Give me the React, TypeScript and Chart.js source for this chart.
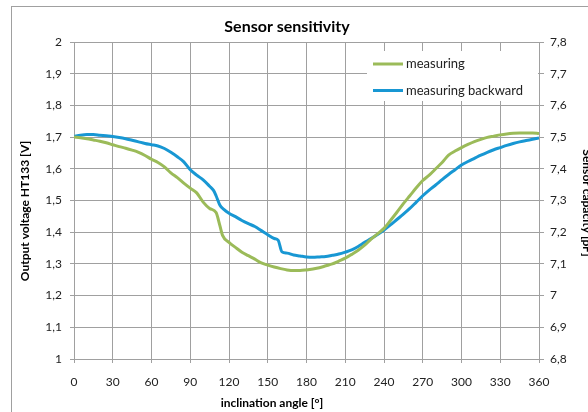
import { useEffect, useRef } from 'react';
import { Chart, registerables } from 'chart.js';

Chart.register(...registerables);

const chartTitle = 'Sensor sensitivity';
const xTitle = 'inclination angle [°]';
const leftTitle = 'Output voltage HT133 [V]';
const rightTitle = 'Sensor capacity [pF]';
const seriesNames = ['measuring', 'measuring backward'];
const seriesColors = ['#9bbb59', '#1897d3'];

const xTickLabels = ['0', '30', '60', '90', '120', '150', '180', '210', '240', '270', '300', '330', '360'];
const leftTickLabels = ['1', '1,1', '1,2', '1,3', '1,4', '1,5', '1,6', '1,7', '1,8', '1,9', '2'];
const rightTickLabels = ['6,8', '6,9', '7', '7,1', '7,2', '7,3', '7,4', '7,5', '7,6', '7,7', '7,8'];

const measuringAngles = [
  0, 5, 10, 15, 20, 25, 30, 35, 40, 45, 50, 55, 60, 65, 70, 75, 80, 85, 90, 95, 100, 105, 110, 113, 115,
  120, 125, 130, 135, 140, 145, 150, 155, 160, 165, 170, 175, 180, 185, 190, 195, 200, 205, 210, 215,
  220, 225, 230, 235, 240, 245, 250, 255, 260, 265, 270, 275, 280, 285, 290, 295, 300, 305, 310, 315,
  320, 325, 330, 335, 340, 345, 350, 355, 360,
];
const measuringValues = [
  1.700, 1.698, 1.695, 1.691, 1.687, 1.682, 1.676, 1.670, 1.665, 1.659, 1.652, 1.642, 1.630, 1.620,
  1.606, 1.587, 1.572, 1.555, 1.539, 1.524, 1.495, 1.475, 1.462, 1.420, 1.390,
  1.368, 1.352, 1.337, 1.326, 1.315, 1.303, 1.296, 1.290, 1.285, 1.281, 1.279, 1.279, 1.281, 1.284,
  1.288, 1.294, 1.300, 1.309, 1.318, 1.330, 1.343, 1.359, 1.378, 1.395, 1.412, 1.437, 1.463, 1.490,
  1.515, 1.540, 1.563, 1.580, 1.600, 1.620, 1.643, 1.656, 1.667, 1.677, 1.686, 1.693, 1.699, 1.703,
  1.707, 1.710, 1.712, 1.713, 1.713, 1.713, 1.711,
];

const backwardAngles = [
  0, 5, 10, 15, 20, 25, 30, 35, 40, 45, 50, 55, 60, 65, 70, 75, 80, 85, 90, 95, 100, 105, 108, 110,
  113, 116, 120, 125, 130, 135, 140, 145, 150, 155, 158, 161, 165, 170, 175, 180, 185, 190, 195, 200,
  205, 210, 215, 220, 225, 230, 235, 240, 245, 250, 255, 260, 265, 270, 275, 280, 285, 290, 295, 300,
  305, 310, 315, 320, 325, 330, 335, 340, 345, 350, 355, 360,
];
const backwardValues = [
  1.702, 1.706, 1.708, 1.708, 1.706, 1.704, 1.702, 1.699, 1.695, 1.690, 1.685, 1.680, 1.676, 1.672,
  1.664, 1.652, 1.638, 1.622, 1.597, 1.580, 1.565, 1.545, 1.532, 1.515,
  1.485, 1.472, 1.460, 1.449, 1.437, 1.427, 1.418, 1.405, 1.392, 1.380, 1.375, 1.338, 1.334, 1.328,
  1.325, 1.322, 1.321, 1.322, 1.323, 1.327, 1.331, 1.337, 1.344, 1.355, 1.368, 1.380, 1.393, 1.407,
  1.423, 1.440, 1.457, 1.475, 1.495, 1.515, 1.533, 1.549, 1.566, 1.582, 1.597, 1.612, 1.623, 1.633,
  1.643, 1.652, 1.660, 1.667, 1.674, 1.680, 1.685, 1.689, 1.693, 1.697,
];

const FONT = 'Lato, "Noto Sans", sans-serif';
const GRID = '#a0a0a0';

const decorPlugin = {
  id: 'decor',
  beforeDraw(chart: any) {
    const ctx = chart.ctx;
    ctx.save();
    ctx.fillStyle = '#ffffff';
    ctx.fillRect(0, 0, chart.width, chart.height);
    ctx.strokeStyle = '#a0a0a0';
    ctx.lineWidth = 1;
    ctx.strokeRect(11.5, 6.5, 1000, 1000);
    ctx.restore();
  },
  beforeDatasetsDraw(chart: any) {
    const ctx = chart.ctx;
    ctx.save();
    ctx.fillStyle = '#ffffff';
    ctx.fillRect(367, 51, 171, 50);
    ctx.restore();
  },
  afterDatasetsDraw(chart: any) {
    const ctx = chart.ctx;
    ctx.save();
    const rows = [64, 90.5];
    chart.data.datasets.forEach((ds: any, i: number) => {
      ctx.strokeStyle = ds.borderColor;
      ctx.lineWidth = 3;
      ctx.beginPath();
      ctx.moveTo(373, rows[i]);
      ctx.lineTo(403, rows[i]);
      ctx.stroke();
      ctx.fillStyle = '#222';
      ctx.font = `13px ${FONT}`;
      ctx.textAlign = 'left';
      ctx.textBaseline = 'middle';
      ctx.fillText(ds.label, 406, rows[i]);
    });
    ctx.fillStyle = '#000';
    ctx.textAlign = 'center';
    ctx.textBaseline = 'middle';
    ctx.font = `bold 16px ${FONT}`;
    ctx.fillText(chartTitle, 287, 27);
    ctx.font = `bold 12px ${FONT}`;
    ctx.fillText(xTitle, 272, 403);
    ctx.save();
    ctx.translate(25, 211);
    ctx.rotate(-Math.PI / 2);
    ctx.fillText(leftTitle, 0, 0);
    ctx.restore();
    ctx.save();
    ctx.translate(587, 203);
    ctx.rotate(Math.PI / 2);
    ctx.fillText(rightTitle, 0, 0);
    ctx.restore();
    ctx.restore();
  },
};

export default function App() {
  const ref = useRef<HTMLCanvasElement | null>(null);
  useEffect(() => {
    if (!ref.current) return;
    const tickFont = { family: FONT, size: 12 };
    const chart = new Chart(ref.current, {
      type: 'line',
      data: {
        datasets: [
          {
            label: seriesNames[0],
            data: measuringAngles.map((a, i) => ({ x: a, y: measuringValues[i] })),
            borderColor: seriesColors[0],
            backgroundColor: seriesColors[0],
            borderWidth: 3,
            pointRadius: 0,
            cubicInterpolationMode: 'monotone',
            yAxisID: 'y',
          },
          {
            label: seriesNames[1],
            data: backwardAngles.map((a, i) => ({ x: a, y: backwardValues[i] })),
            borderColor: seriesColors[1],
            backgroundColor: seriesColors[1],
            borderWidth: 3,
            pointRadius: 0,
            cubicInterpolationMode: 'monotone',
            yAxisID: 'y',
          },
        ],
      },
      options: {
        responsive: false,
        animation: false,
        events: [],
        layout: { padding: { top: 42, left: 0, right: 0, bottom: 0 } },
        plugins: {
          legend: { display: false },
          title: { display: false },
          tooltip: { enabled: false },
        },
        scales: {
          x: {
            type: 'linear',
            min: 0,
            max: 360,
            afterFit: (s: any) => { s.height = 53; },
            ticks: {
              stepSize: 30,
              autoSkip: false,
              maxRotation: 0,
              padding: 12,
              color: '#222',
              font: tickFont,
              callback: (_v: any, i: number) => xTickLabels[i],
            },
            grid: { color: GRID, lineWidth: 1, tickLength: 4, tickColor: GRID },
            border: { color: GRID, width: 1 },
          },
          y: {
            type: 'linear',
            position: 'left',
            min: 1,
            max: 2,
            afterFit: (s: any) => { s.width = 74; },
            ticks: {
              stepSize: 0.1,
              autoSkip: false,
              padding: 8,
              color: '#222',
              font: tickFont,
              callback: (_v: any, i: number) => leftTickLabels[i],
            },
            grid: { color: GRID, lineWidth: 1, tickLength: 4, tickColor: GRID },
            border: { color: GRID, width: 1 },
          },
          y2: {
            type: 'linear',
            position: 'right',
            min: 6.8,
            max: 7.8,
            afterFit: (s: any) => { s.width = 49; },
            ticks: {
              stepSize: 0.1,
              autoSkip: false,
              padding: 6,
              color: '#222',
              font: tickFont,
              callback: (_v: any, i: number) => rightTickLabels[i],
            },
            grid: { drawOnChartArea: false, color: GRID, lineWidth: 1, tickLength: 5, tickColor: GRID },
            border: { color: GRID, width: 1 },
          },
        },
      },
      plugins: [decorPlugin],
    } as any);
    return () => chart.destroy();
  }, []);
  return (
    <div style={{ position: 'absolute', left: 0, top: 0, width: 588, height: 412, overflow: 'hidden' }}>
      <canvas ref={ref} width={588} height={412} style={{ display: 'block', width: 588, height: 412 }} />
    </div>
  );
}
